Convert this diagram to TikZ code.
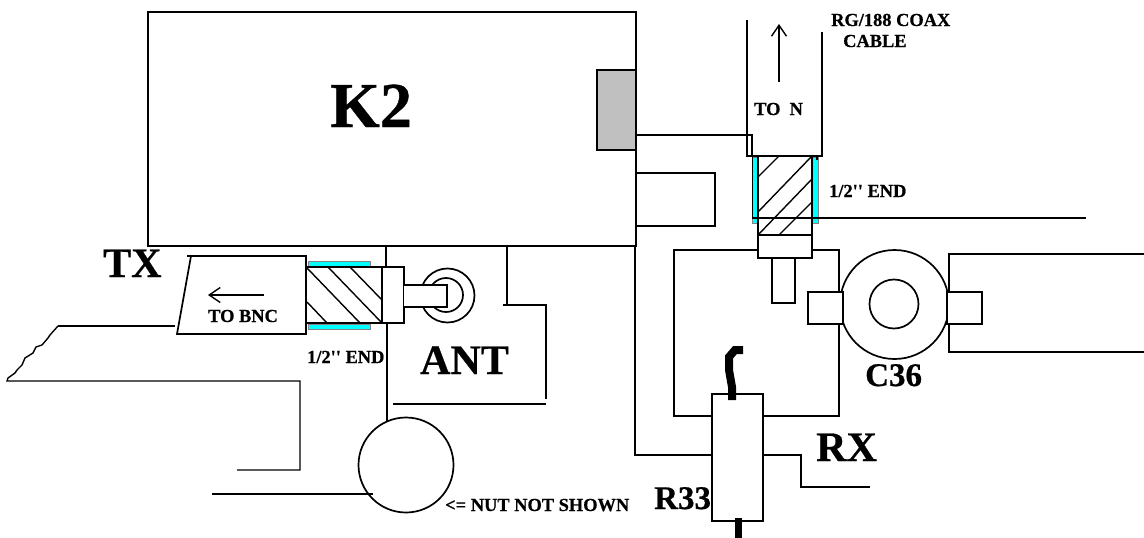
\documentclass[tikz,border=0pt]{standalone}
\usepackage{fontspec}
\setmainfont{Liberation Serif}
\newfontfamily\labelfont[BoldFeatures={FakeBold=0.6}]{Liberation Serif}
\usetikzlibrary{arrows.meta}
\definecolor{ferrulecyan}{RGB}{0,255,255}
\definecolor{ferruleedge}{RGB}{130,130,130}
\definecolor{jackgray}{RGB}{192,192,192}
\tikzset{
  ln/.style={draw=black,line width=1.7pt},
  thin ln/.style={draw=black,line width=1.4pt},
  white part/.style={ln,fill=white},
  ferrule/.style={draw=ferruleedge,line width=1pt,fill=ferrulecyan},
  blob/.style={draw=black,line width=#1},
  barb/.style={ln,-{Straight Barb[length=11pt,width=15pt,line width=1.4pt]}},
  lab/.style={inner sep=0pt,anchor=base west,font=\labelfont\bfseries\fontsize{#1}{#1}\selectfont},
}
\begin{document}
\begin{tikzpicture}[x=1pt,y=-1pt]
\useasboundingbox (0,0) rectangle (1144,538);
% K2 chassis
\draw[ln] (148,12) rectangle (636,246);
\draw[ln,fill=jackgray] (597,70) rectangle (636,150);
\coordinate (k2a) at (636,135);
\coordinate (cabA) at (752,135);
\coordinate (cabB) at (752,156);
\draw[thin ln] (k2a) -- (cabA) -- (cabB);
\draw[thin ln] (636,173) -- (715,173) -- (715,226) -- (636,226);
% RG/188 cable
\draw[ln] (747,20) -- (747,156) -- (822,156) -- (822,32);
\draw[barb] (779,82) -- (779,24);
% upper connector
\draw[ferrule] (752,157) rectangle (758,223);
\draw[ferrule] (812,157) rectangle (818,223);
\draw[ln] (752.5,157) -- (752.5,218);
\draw[ln] (817,157) -- (817,160);
\draw[ln] (758,156) rectangle (812,235);
\draw[thin ln] (758,177) -- (779,156);
\draw[thin ln] (758,212) -- (812,156);
\draw[thin ln] (758,235) -- (812,179);
\draw[thin ln] (779,235) -- (812,202);
\draw[thin ln] (752,218) -- (1086,218);
% inner box
\draw[thin ln] (712,416) -- (674,416) -- (674,250) -- (839,250) -- (839,416) -- (763,416);
\draw[white part] (758,235) rectangle (812,258);
\draw[white part] (772,258) rectangle (795,303);
% C36
\draw[ln] (894.5,304.5) circle[radius=54.5];
\draw[ln] (894,304) circle[radius=24.5];
\draw[white part] (808,292) rectangle (843,324);
\draw[white part] (947,292) rectangle (982,324);
\draw[ln] (1144,254) -- (949,254) -- (949,292);
\draw[ln] (949,324) -- (949,352) -- (1144,352);
% R33
\draw[ln] (635,246) -- (635,455) -- (712,455);
\draw[ln] (712,394) rectangle (763,521);
\draw[ln] (763,455) -- (801,455) -- (801,487) -- (870,487);
\draw[blob=8pt] (732,400) -- (732,387) -- (729,370) -- (729,357) -- (735,350) -- (743,350);
\draw[blob=7pt] (738,518) -- (738,538);
% lower connector
\draw[ln] (447.5,295.5) circle[radius=27];
\draw[ln] (446,295) circle[radius=17];
\draw[ferrule] (308,261) rectangle (370,266);
\draw[ferrule] (308,324) rectangle (370,329);
\draw[ln] (187,256) -- (306,256) -- (306,334) -- (177,334) -- (191,256);
\draw[ln] (306,267) rectangle (382,323);
\draw[thin ln] (307,268) -- (360,323);
\draw[thin ln] (328,267) -- (382,323);
\draw[thin ln] (350,267) -- (382,300);
\draw[thin ln] (307,302) -- (327,323);
\draw[ln] (382,267) rectangle (404,323);
\draw[white part] (404,285) -- (447,285) -- (447,307) -- (404,307);
\draw[ln] (386,246) -- (386,267);
\draw[barb] (264,295) -- (208,295);
% wires
\draw[ln] (58,326) -- (175,326);
\draw[thin ln] (58,326) -- (50,335) -- (48,338) -- (42,345) -- (36,347) -- (33,353) -- (25,358) -- (22,365) -- (17,370) -- (15,373) -- (8,378) -- (7,381) -- (300,381) -- (300,470) -- (237,470);
\draw[ln] (212,494) -- (373,494);
\draw[ln] (387,323) -- (387,422);
\draw[ln] (406,465) circle[radius=47.5];
\draw[ln] (507,246) -- (507,305);
\draw[ln] (503,305) -- (546,305) -- (546,399);
\draw[ln] (393,404) -- (546,404);
% labels
\node[lab=64] (k2) at (330,127) {K2};
\node[lab=42] (tx) at (103,277) {TX};
\node[lab=42] (ant) at (420,374) {ANT};
\node[lab=42] (rx) at (816,461) {RX};
\node[lab=33] (c36) at (865,386) {C36};
\node[lab=33] (r33) at (654,509) {R33};
\node[lab=18.4] (tobnc) at (208,322) {TO BNC};
\node[lab=18.4] (end1) at (307,363) {1/2'' END};
\node[lab=18.4] (end2) at (829,197) {1/2'' END};
\node[lab=18.4] (ton) at (754,115) {TO\ \ N};
\node[lab=18.4] (rg) at (831,26) {RG/188 COAX};
\node[lab=18.4] (cable) at (843,47) {CABLE};
\node[lab=18.4] (nut) at (445,511) {<= NUT NOT SHOWN};
\end{tikzpicture}
\end{document}
